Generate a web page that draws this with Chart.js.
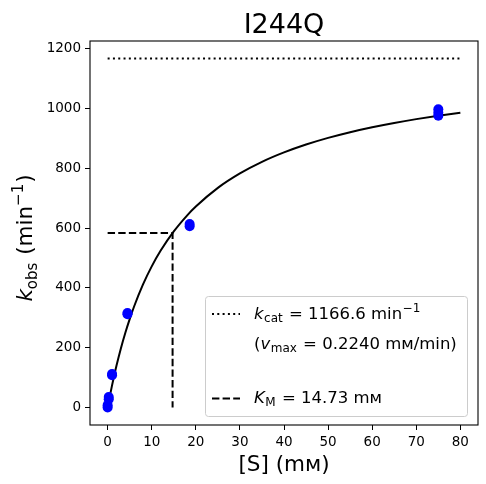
<!DOCTYPE html>
<html lang="en">
<head>
    <meta charset="UTF-8">
    <title>I244Q</title>
    <script src="https://cdn.jsdelivr.net/npm/chart.js"></script>
    <style>
        body {
            margin: 0;
            background: #fff;
        }
        #wrap {
            width: 486px;
            height: 484px;
            position: relative;
        }
    </style>
</head>
<body>
    <div id="wrap"><canvas id="mmChart"></canvas></div>
    <script>
        // Mesures (points bleus)
        const substrate = [0, 0, 0.25, 0.25, 1, 1, 4.5, 4.5, 18.6, 18.6, 75, 75, 75];
        const kobs = [0, 8, 28, 35, 108, 112, 312, 316, 606, 613, 975, 985, 997];

        // Courbe ajustée
        const fitS = [0, 0.5, 1, 1.5, 2, 3, 4, 5, 6, 8, 10, 12, 15, 18, 20, 25, 30, 35, 40, 45, 50, 55, 60, 65, 70, 75, 80];
        const fitK = [0, 38.3, 74.2, 107.8, 139.5, 197.4, 249.1, 295.6, 337.7, 410.6, 471.7, 523.7, 588.6, 641.6, 671.8, 734.1, 782.4, 821.1, 852.6, 878.9, 901.1, 920.2, 936.7, 951.1, 963.8, 975.1, 985.2];

        // Paramètres
        const kcat = 1166.6;
        const KM = 14.73;
        const sMax = 80;

        const xTicks = [0, 10, 20, 30, 40, 50, 60, 70, 80];
        const yTicks = [0, 200, 400, 600, 800, 1000, 1200];

        const FONT = 'DejaVu Sans';

        // Texte avec indices / exposants
        function drawRuns(ctx, runs, x, y, align) {
            let total = 0;
            runs.forEach(r => {
                ctx.font = (r.it ? 'italic ' : '') + r.s + 'px "' + FONT + '"';
                r.w = ctx.measureText(r.t).width + (r.gap || 0);
                total += r.w;
            });
            let cx = align === 'center' ? x - total / 2 : x;
            ctx.textAlign = 'left';
            ctx.textBaseline = 'alphabetic';
            ctx.fillStyle = '#000';
            runs.forEach(r => {
                ctx.font = (r.it ? 'italic ' : '') + r.s + 'px "' + FONT + '"';
                ctx.fillText(r.t, cx, y + (r.dy || 0));
                cx += r.w;
            });
        }

        const decorPlugin = {
            id: 'decor',
            afterDraw(chart) {
                const ctx = chart.ctx;
                const ca = chart.chartArea;
                ctx.save();

                // cadre
                ctx.strokeStyle = '#000';
                ctx.lineWidth = 1.1;
                ctx.strokeRect(ca.left, ca.top, ca.right - ca.left, ca.bottom - ca.top);

                // titre
                drawRuns(ctx, [{ t: 'I244Q', s: 27 }], (ca.left + ca.right) / 2, 33, 'center');

                // titre axe x
                drawRuns(ctx, [{ t: '[S] (mм)', s: 21.5 }], (ca.left + ca.right) / 2, 471, 'center');

                // titre axe y
                ctx.save();
                ctx.translate(32, 238);
                ctx.rotate(-Math.PI / 2);
                drawRuns(ctx, [
                    { t: 'k', it: true, s: 21.5 },
                    { t: 'obs', s: 15, dy: 4.5, gap: 1 },
                    { t: ' (min', s: 21.5 },
                    { t: '\u22121', s: 15, dy: -9, gap: 1 },
                    { t: ')', s: 21.5 }
                ], 0, 0, 'center');
                ctx.restore();

                // légende
                const lx = 205.5, ly = 296.5, lw = 262, lh = 120;
                ctx.beginPath();
                ctx.roundRect(lx, ly, lw, lh, 3);
                ctx.fillStyle = 'rgba(255,255,255,0.8)';
                ctx.fill();
                ctx.strokeStyle = '#cccccc';
                ctx.lineWidth = 1;
                ctx.stroke();

                ctx.strokeStyle = '#000';
                ctx.lineWidth = 2;
                ctx.setLineDash([2, 3.3]);
                ctx.beginPath();
                ctx.moveTo(212, 314);
                ctx.lineTo(240, 314);
                ctx.stroke();
                ctx.setLineDash([7.4, 3.2]);
                ctx.beginPath();
                ctx.moveTo(212, 398.5);
                ctx.lineTo(240, 398.5);
                ctx.stroke();
                ctx.setLineDash([]);

                drawRuns(ctx, [
                    { t: 'k', it: true, s: 16.5, gap: 0.5 },
                    { t: 'cat', s: 12, dy: 3.4, gap: 1 },
                    { t: ' = ' + kcat.toFixed(1) + ' min', s: 16.5, gap: 0.5 },
                    { t: '\u22121', s: 12, dy: -6.8 }
                ], 254, 318.5, 'left');
                drawRuns(ctx, [
                    { t: '(', s: 16.5 },
                    { t: 'v', it: true, s: 16.5, gap: 0.5 },
                    { t: 'max', s: 12, dy: 3.4, gap: 1 },
                    { t: ' = 0.2240 mм/min)', s: 16.5 }
                ], 254, 348.5, 'left');
                drawRuns(ctx, [
                    { t: 'K', it: true, s: 16.5, gap: 0.5 },
                    { t: 'M', s: 12, dy: 3.4, gap: 1 },
                    { t: ' = ' + KM.toFixed(2) + ' mм', s: 16.5 }
                ], 254, 402.5, 'left');

                ctx.restore();
            }
        };

        const ctx = document.getElementById('mmChart').getContext('2d');
        new Chart(ctx, {
            type: 'scatter',
            data: {
                datasets: [
                    {
                        label: 'données',
                        data: substrate.map((s, i) => ({ x: s, y: kobs[i] })),
                        backgroundColor: '#0000ff',
                        borderWidth: 0,
                        pointRadius: 5,
                        order: 0
                    },
                    {
                        label: 'ajustement',
                        data: fitS.map((s, i) => ({ x: s, y: fitK[i] })),
                        showLine: true,
                        borderColor: '#000',
                        borderWidth: 2,
                        pointRadius: 0,
                        cubicInterpolationMode: 'monotone',
                        order: 1
                    },
                    {
                        label: 'kcat',
                        data: [{ x: 0, y: kcat }, { x: sMax, y: kcat }],
                        showLine: true,
                        borderColor: '#000',
                        borderWidth: 2,
                        borderDash: [2, 3.3],
                        pointRadius: 0,
                        order: 2
                    },
                    {
                        label: 'KM',
                        data: [{ x: 0, y: kcat / 2 }, { x: KM, y: kcat / 2 }, { x: KM, y: 0 }],
                        showLine: true,
                        borderColor: '#000',
                        borderWidth: 2,
                        borderDash: [7.4, 3.2],
                        pointRadius: 0,
                        order: 2
                    }
                ]
            },
            options: {
                responsive: true,
                maintainAspectRatio: false,
                animation: false,
                devicePixelRatio: 1,
                layout: {
                    padding: { top: 41, right: 8, left: 0, bottom: 0 }
                },
                plugins: {
                    legend: { display: false },
                    tooltip: { enabled: false }
                },
                scales: {
                    x: {
                        type: 'linear',
                        min: -4,
                        max: 84,
                        afterFit: scale => { scale.height = 59; },
                        afterBuildTicks: scale => { scale.ticks = xTicks.map(v => ({ value: v })); },
                        border: { display: false },
                        grid: {
                            drawOnChartArea: false,
                            drawTicks: true,
                            tickLength: 5,
                            color: '#000',
                            lineWidth: 1
                        },
                        ticks: {
                            color: '#000',
                            padding: 4,
                            maxRotation: 0,
                            callback: v => String(v),
                            font: { family: FONT, size: 13.5 }
                        }
                    },
                    y: {
                        type: 'linear',
                        min: -58.3,
                        max: 1224.9,
                        afterFit: scale => { scale.width = 90; },
                        afterBuildTicks: scale => { scale.ticks = yTicks.map(v => ({ value: v })); },
                        border: { display: false },
                        grid: {
                            drawOnChartArea: false,
                            drawTicks: true,
                            tickLength: 5,
                            color: '#000',
                            lineWidth: 1
                        },
                        ticks: {
                            color: '#000',
                            padding: 4,
                            callback: v => String(v),
                            font: { family: FONT, size: 13.5 }
                        }
                    }
                }
            },
            plugins: [decorPlugin]
        });
    </script>
</body>
</html>
